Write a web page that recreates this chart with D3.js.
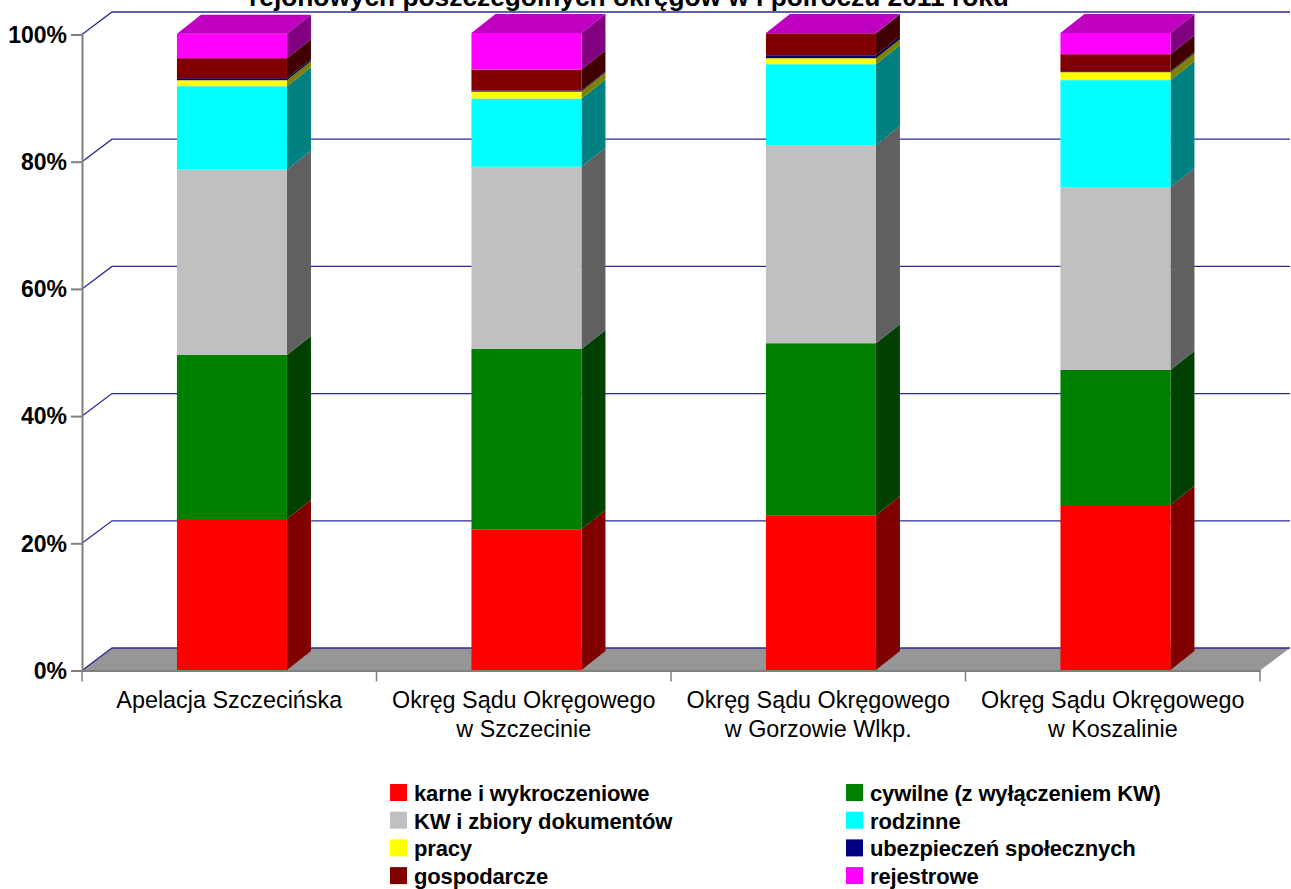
<!DOCTYPE html>
<html lang="pl">
<head>
  <meta charset="UTF-8">
  <title>Sprawy w sądach rejonowych</title>
  <script src="https://d3js.org/d3.v7.min.js"></script>
  <style>
    body { margin: 0; background: #fff; }
    svg { display: block; }
    text { font-family: "Liberation Sans", Arial, sans-serif; fill: #000; }
  </style>
</head>
<body>
  <svg width="1291" height="889"></svg>
  <script>
    const categories = [
      ["Apelacja Szczecińska"],
      ["Okręg Sądu Okręgowego", "w Szczecinie"],
      ["Okręg Sądu Okręgowego", "w Gorzowie Wlkp."],
      ["Okręg Sądu Okręgowego", "w Koszalinie"]
    ];
    const seriesNames = ["karne i wykroczeniowe", "cywilne (z wyłączeniem KW)", "KW i zbiory dokumentów", "rodzinne",
      "pracy", "ubezpieczeń społecznych", "gospodarcze", "rejestrowe"];
    const karne = [23.7, 22.1, 24.3, 25.9];
    const cywilne = [25.75, 28.3, 27.0, 21.2];
    const kw = [29.1, 28.6, 31.1, 28.7];
    const rodzinne = [13.1, 10.7, 12.7, 16.8];
    const pracy = [0.94, 1.1, 0.94, 1.25];
    const ubezp = [0.32, 0.16, 0.47, 0.15];
    const gospodarcze = [3.14, 3.3, 3.45, 2.67];
    const rejestrowe = [3.85, 5.74, 0.04, 3.33];
    const yTicks = [0, 20, 40, 60, 80, 100];

    const colors = ["#ff0000", "#008000", "#c0c0c0", "#00ffff", "#ffff00", "#000080", "#800000", "#ff00ff"];
    const sideColors = ["#800000", "#004000", "#606060", "#008080", "#808000", "#000040", "#400000", "#800080"];
    const topColor = "#c000c0";

    const svg = d3.select("svg");
    const plotLeft = 82, plotRight = 1260, plotBottom = 670.5, plotTop = 34.5;
    const wallDx = 30, wallDy = 22.5;
    const barW = 110, barDx = 24, barDy = 19, barOffset = 2.7;

    const labels = categories.map(c => c.join(" "));
    const x = d3.scaleBand().domain(labels).range([plotLeft, plotRight]);
    const y = d3.scaleLinear().domain([0, 100]).range([plotBottom, plotTop]);
    const yBar = d3.scaleLinear().domain([0, 100]).range([plotBottom - 0.5, plotTop - 1.5]);

    const columns = [karne, cywilne, kw, rodzinne, pracy, ubezp, gospodarcze, rejestrowe];
    const rows = labels.map((name, i) => {
      const row = { name };
      seriesNames.forEach((s, j) => { row[s] = columns[j][i]; });
      return row;
    });
    const stacked = d3.stack().keys(seriesNames)(rows);
    const poly = d3.line();

    // title, its upper part is cut by the page edge
    svg.append("text").attr("x", 629).attr("y", 6)
      .attr("text-anchor", "middle")
      .attr("font-size", 26.3).attr("font-weight", "bold")
      .text("rejonowych poszczególnych okręgów w I półroczu 2011 roku");

    // floor
    svg.append("path")
      .attr("fill", "#969696")
      .attr("d", poly([[plotLeft, plotBottom], [plotLeft + wallDx, plotBottom - wallDy],
        [plotRight + wallDx, plotBottom - wallDy], [plotRight, plotBottom]]) + "Z");

    // grid, along the side wall and the back wall
    svg.append("g").selectAll("path").data(yTicks).join("path")
      .attr("fill", "none").attr("stroke", "#2a2a9a").attr("stroke-width", 1.3)
      .attr("d", d => poly([[plotLeft, y(d)], [plotLeft + wallDx, y(d) - wallDy], [plotRight + wallDx, y(d) - wallDy]]));

    // bars
    const barX = label => x(label) + x.bandwidth() / 2 - barW / 2 + barOffset;
    const layers = svg.append("g").selectAll("g").data(stacked).join("g");

    layers.selectAll(".side").data(s => s.map(d => ({ d, i: s.index }))).join("path")
      .attr("class", "side")
      .attr("fill", p => sideColors[p.i])
      .attr("d", p => {
        const x1 = barX(p.d.data.name) + barW, y0 = yBar(p.d[0]), y1 = yBar(p.d[1]);
        return poly([[x1, y0], [x1 + barDx, y0 - barDy], [x1 + barDx, y1 - barDy], [x1, y1]]) + "Z";
      });

    layers.selectAll(".front").data(s => s.map(d => ({ d, i: s.index }))).join("rect")
      .attr("class", "front")
      .attr("fill", p => colors[p.i])
      .attr("x", p => barX(p.d.data.name))
      .attr("width", barW)
      .attr("y", p => yBar(p.d[1]))
      .attr("height", p => yBar(p.d[0]) - yBar(p.d[1]));

    svg.append("g").selectAll("path").data(stacked[stacked.length - 1]).join("path")
      .attr("fill", topColor)
      .attr("d", d => {
        const x0 = barX(d.data.name), yt = yBar(d[1]);
        return poly([[x0, yt], [x0 + barDx, yt - barDy], [x0 + barW + barDx, yt - barDy], [x0 + barW, yt]]) + "Z";
      });

    // axes
    const yAxis = svg.append("g").attr("transform", `translate(${plotLeft},0)`)
      .call(d3.axisLeft(y).tickValues(yTicks).tickFormat(d => d + "%").tickSize(11).tickPadding(4));
    yAxis.selectAll("path, line").attr("stroke", "#808080").attr("stroke-width", 2);
    yAxis.selectAll("text").attr("font-size", 23).attr("font-weight", "bold")
      .attr("font-family", null).attr("dy", "0.34em");

    const xAxis = svg.append("g").attr("transform", `translate(0,${plotBottom})`)
      .call(d3.axisBottom(x).tickValues([]).tickSizeOuter(0));
    xAxis.select("path").attr("stroke", "#808080").attr("stroke-width", 2);

    const tickX = labels.map(l => x(l)).concat(plotRight);
    svg.append("g").selectAll("line").data(tickX).join("line")
      .attr("x1", d => d).attr("x2", d => d)
      .attr("y1", plotBottom).attr("y2", plotBottom + 11)
      .attr("stroke", "#808080").attr("stroke-width", 1.5);

    const catText = svg.append("g").selectAll("text").data(categories).join("text")
      .attr("text-anchor", "middle").attr("font-size", 23.35)
      .attr("y", 708);
    catText.selectAll("tspan").data(d => d.map(t => ({ t, c: d }))).join("tspan")
      .attr("x", p => x(p.c.join(" ")) + x.bandwidth() / 2)
      .attr("dy", (p, i) => i ? 29 : 0)
      .text(p => p.t);

    // legend, two columns filled row by row
    const legend = svg.append("g").selectAll("g").data(seriesNames).join("g")
      .attr("transform", (d, i) => `translate(${i % 2 ? 846 : 390},${784 + Math.floor(i / 2) * 27.7})`);
    legend.append("rect").attr("width", 17).attr("height", 17)
      .attr("fill", (d, i) => colors[i]);
    legend.append("text").attr("x", 24).attr("y", 17)
      .attr("font-size", 22).attr("font-weight", "bold").attr("letter-spacing", -0.15)
      .text(d => d);
  </script>
</body>
</html>
